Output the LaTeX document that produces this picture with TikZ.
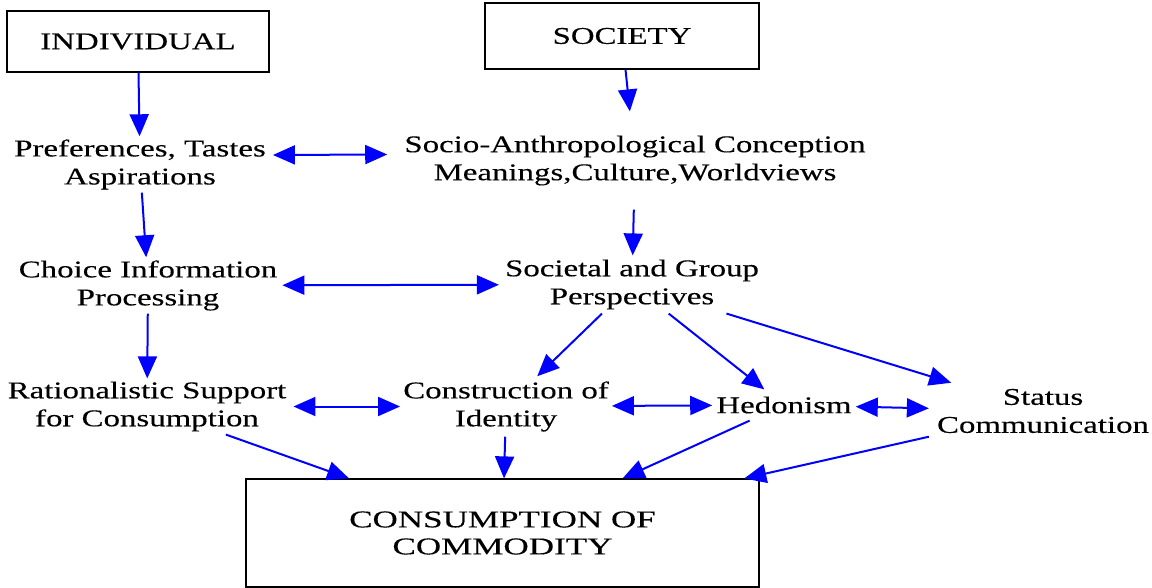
\documentclass[tikz,border=0pt]{standalone}
\usepackage{fontspec}
\setmainfont{Liberation Serif}[FakeStretch=1.37,FakeBold=0.25]
\newfontfamily\capfont{Liberation Serif}[FakeStretch=1.46,FakeBold=0.25]
\usetikzlibrary{arrows.meta}
\begin{document}
\begin{tikzpicture}[x=1pt,y=-1pt,
  lbl/.style={align=center,font=\fontsize{24}{28}\selectfont,inner xsep=6pt,inner ysep=4pt},
  boxnode/.style={draw=black,line width=1.2pt,align=center,font=\fontsize{24}{28}\selectfont,inner sep=0pt},
  arr/.style={draw=blue,line width=2pt,-{Triangle[length=22pt,width=19pt]}},
  darr/.style={draw=blue,line width=2pt,{Triangle[length=22pt,width=19pt]}-{Triangle[length=22pt,width=19pt]}}]
\useasboundingbox (0,0) rectangle (1152,588);

% boxes
\node[boxnode,minimum width=262pt,minimum height=61pt] (indiv) at (138,41.5) {INDIVIDUAL};
\node[boxnode,minimum width=274pt,minimum height=66pt] (society) at (622,36) {SOCIETY};
\node[boxnode,minimum width=513pt,minimum height=108pt,font=\fontsize{24}{27}\capfont] (consum) at (502.5,533) {CONSUMPTION OF\\COMMODITY};

% text nodes
\node[lbl,inner xsep=7pt,inner ysep=3pt] (pref) at (140,164.5) {Preferences, Tastes\\Aspirations};
\node[lbl,inner xsep=17pt,inner ysep=24pt] (socio) at (635,160.5) {Socio-Anthropological Conception\\Meanings,Culture,Worldviews};
\node[lbl,inner xsep=5pt,inner ysep=3pt] (choice) at (148,285.5) {Choice Information\\Processing};
\node[lbl,inner ysep=4pt] (societal) at (632,284.5) {Societal and Group\\Perspectives};
\node[lbl,inner xsep=7pt,inner ysep=3pt] (rational) at (147,406.5) {Rationalistic Support\\for Consumption};
\node[lbl,inner xsep=3pt,inner ysep=5pt] (constr) at (506,406.5) {Construction of\\Identity};
\node[lbl,inner xsep=4pt,inner ysep=7pt] (hedon) at (784,405) {Hedonism};
\node[lbl,inner xsep=8pt,inner ysep=6pt] (status) at (1043,411) {Status\\Communication};

% connectors
\draw[arr] (indiv) -- (pref);
\draw[arr] (society) -- (socio);
\draw[arr] (pref) -- (choice);
\draw[arr] (socio) -- (societal);
\draw[arr] (choice) -- (rational);
\draw[arr] (societal) -- (constr);
\draw[arr] (societal) -- (hedon);
\draw[arr] (societal) -- (status);
\draw[arr] (rational) -- (consum);
\draw[arr] (constr) -- (consum);
\draw[arr] (hedon) -- (consum);
\draw[arr] (status) -- (consum);

\draw[darr] ([yshift=9.5pt]pref.east) -- ([yshift=6pt]socio.west);
\draw[darr] (choice) -- (societal);
\draw[darr] (rational) -- (constr);
\draw[darr] (constr) -- (hedon);
\draw[darr] (hedon) -- (status);
\end{tikzpicture}
\end{document}
